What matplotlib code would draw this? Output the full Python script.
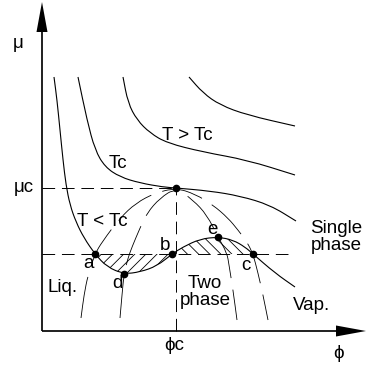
import numpy as np
import matplotlib.pyplot as plt
from matplotlib.path import Path
from matplotlib.patches import PathPatch

plt.rcParams['font.family'] = ['Liberation Sans', 'DejaVu Sans']
plt.rcParams['hatch.linewidth'] = 0.6

# schematic mu(phi) isotherms, units: phi_c = 134, mu_c = 143
phi_c, mu_c = 134, 143
mu_coex = 77

# T < Tc isotherm (van der Waals loop)
low_x = [12, 15, 18, 21, 24, 28, 34, 42, 53, 65, 82, 98, 115, 130, 141, 158, 176, 191, 203, 211, 233, 253]
low_y = [254, 231, 201, 171, 146, 126, 109, 93, 77, 64, 57, 59, 65, 77, 84, 92, 94, 91, 84, 77, 58, 44]
# critical isotherm
crit_x = [36, 45, 53, 63, 78, 98, 121, 134, 168, 198, 228, 254]
crit_y = [254, 211, 181, 164, 154, 148, 144, 143, 140, 135, 126, 110]
# T > Tc isotherms
hi1_x = [81, 86, 95, 108, 125, 161, 205, 253]
hi1_y = [254, 228, 211, 198, 188, 179, 171, 156]
hi2_x = [147, 161, 178, 205, 253]
hi2_y = [254, 238, 226, 216, 205]
# binodal and spinodal
bin_x = [39, 42, 46, 53, 60, 78, 94, 113, 134, 153, 171, 186, 196, 205, 211, 216, 221, 226]
bin_y = [13, 36, 56, 77, 89, 113, 128, 138, 143, 137, 126, 113, 101, 89, 77, 58, 36, 11]
spi_x = [78, 80, 82, 86, 90, 98, 105, 118, 134, 151, 165, 176, 185, 187, 191, 195]
spi_y = [13, 36, 57, 73, 84, 103, 118, 133, 143, 131, 116, 94, 78, 66, 41, 11]

# marked points
pt_names = ['a', 'b', 'c', 'd', 'e']
pt_x = [53, 130, 211, 82, 176]
pt_y = [77, 77, 77, 57, 94]


def smooth_path(xs, ys):
    """
    quadratic curve through midpoints, data points as control points
    """
    p = np.column_stack((xs, ys)).astype(float)
    mids = (p[:-1] + p[1:]) / 2
    verts = [p[0], mids[0]]
    codes = [Path.MOVETO, Path.LINETO]
    for i in range(1, len(p) - 1):
        verts += [p[i], mids[i]]
        codes += [Path.CURVE3, Path.CURVE3]
    verts.append(p[-1])
    codes.append(Path.LINETO)
    return Path(verts, codes)


fig = plt.figure(figsize=(3.67, 3.70), dpi=100)
ax = fig.add_axes([0, 0, 1, 1])
ax.set_xlim(-42, 325)
ax.set_ylim(-39, 331)
ax.axis('off')

# axes arrows
ax.arrow(0, 0, 0, 329, width=1.7, head_width=11, head_length=30,
         length_includes_head=True, fc='k', ec='k', lw=0)
ax.arrow(0, 0, 324, 0, width=1.7, head_width=11, head_length=30,
         length_includes_head=True, fc='k', ec='k', lw=0)

for xs, ys in [(low_x, low_y), (crit_x, crit_y), (hi1_x, hi1_y), (hi2_x, hi2_y)]:
    ax.add_patch(PathPatch(smooth_path(xs, ys), fc='none', ec='k', lw=0.8))

for xs, ys in [(bin_x, bin_y), (spi_x, spi_y)]:
    ax.add_patch(PathPatch(smooth_path(xs, ys), fc='none', ec='k', lw=0.6,
                           linestyle=(0, (50, 14))))

# guide lines
dash = (0, (13, 7))
ax.plot([0, phi_c], [mu_c, mu_c], color='k', lw=0.7, linestyle=dash)
ax.plot([phi_c, phi_c], [0, mu_c], color='k', lw=0.7, linestyle=dash)
ax.plot([0, 248], [mu_coex, mu_coex], color='k', lw=0.7, linestyle=dash)

# equal area hatching
i_a, i_b, i_c = low_x.index(53), low_x.index(130), low_x.index(211)
ax.add_patch(PathPatch(smooth_path(low_x[i_a:i_b + 1], low_y[i_a:i_b + 1]),
                       fc='none', ec='k', lw=0, hatch='///'))
ax.add_patch(PathPatch(smooth_path(low_x[i_b:i_c + 1], low_y[i_b:i_c + 1]),
                       fc='none', ec='k', lw=0, hatch='\\\\\\'))

ax.plot(pt_x + [phi_c], pt_y + [mu_c], 'ko', ms=4.5)

fs = 13.5
lab_off = {'a': (-7, -10), 'b': (-7, 9), 'c': (-7, -11), 'd': (-7, -10), 'e': (-6, 8)}
for n, x, y in zip(pt_names, pt_x, pt_y):
    dx, dy = lab_off[n]
    ax.text(x + dx, y + dy, n, fontsize=fs, ha='center', va='center')

ax.text(-24, 288, 'μ', fontsize=fs, ha='center', va='center')
ax.text(-18, 144, 'μc', fontsize=fs, ha='center', va='center')
ax.text(297, -22, 'ϕ', fontsize=fs, ha='center', va='center')
ax.text(132, -14, 'ϕc', fontsize=fs, ha='center', va='center')
ax.text(145, 195, 'T > Tc', fontsize=fs, ha='center', va='center')
ax.text(76, 168, 'Tc', fontsize=fs, ha='center', va='center')
ax.text(60, 110, 'T < Tc', fontsize=fs, ha='center', va='center')
ax.text(21, 43, 'Liq.', fontsize=fs, ha='center', va='center')
ax.text(163, 39, 'Two\nphase', fontsize=fs, ha='center', va='center', linespacing=1.05)
ax.text(294, 94, 'Single\nphase', fontsize=fs, ha='center', va='center', linespacing=1.05)
ax.text(270, 26, 'Vap.', fontsize=fs, ha='center', va='center')

fig.savefig('out.png', dpi=100)
